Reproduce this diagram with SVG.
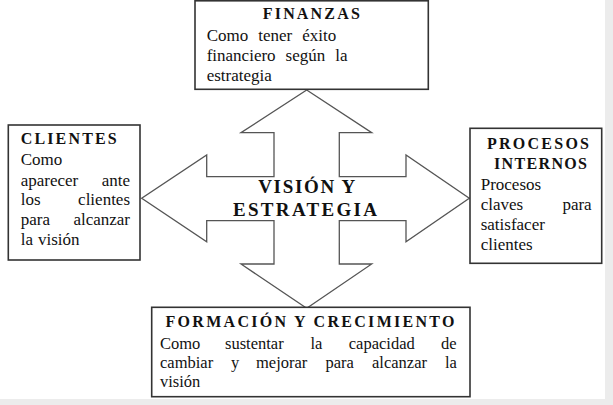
<svg xmlns="http://www.w3.org/2000/svg" width="613" height="405" viewBox="0 0 613 405">
<style>
.box{fill:#fff;stroke:#333;stroke-width:1.6}
.arrow{fill:#fff;stroke:#555;stroke-width:1.3;stroke-linejoin:miter}
</style>
<rect x="0" y="0" width="613" height="405" fill="#ececec"/>
<rect x="0" y="0" width="605" height="399" fill="#fff"/>
<g id="connectors">
<polygon class="arrow" points="306.7,90 371.7,132.7 339.3,132.7 339.3,176.7 406,176.7 406,155 469.3,198.3 406,241.7 406,220.7 339.3,220.7 339.3,264 371.7,264 306.7,308.3 241,264 274,264 274,220.7 206.7,220.7 206.7,241.7 141.7,198.3 206.7,155 206.7,176.7 274,176.7 274,132.7 241,132.7"/>
</g>
<g fill="#111">
<g id="center">
<text x="306.7" y="193" text-anchor="middle" style="font-family:'Liberation Serif';font-weight:bold;font-size:19px" textLength="97" lengthAdjust="spacing">VISIÓN Y</text>
<text x="305" y="215.5" text-anchor="middle" style="font-family:'Liberation Serif';font-weight:bold;font-size:19px" textLength="144" lengthAdjust="spacing">ESTRATEGIA</text>
</g>
<g id="finanzas">
<rect class="box" x="195" y="0.8" width="233.3" height="88.5"/>
<text x="311.3" y="18.5" text-anchor="middle" style="font-family:'Liberation Serif';font-weight:bold;font-size:16px" textLength="97" lengthAdjust="spacing">FINANZAS</text>
<text y="40.7" style="font-family:'Liberation Serif';font-size:17px"><tspan x="206.7">Como</tspan><tspan x="258.3">tener</tspan><tspan x="302.3">éxito</tspan></text>
<text y="61" style="font-family:'Liberation Serif';font-size:17px"><tspan x="206.7">financiero</tspan><tspan x="285.6">según</tspan><tspan x="335.3">la</tspan></text>
<text x="206.7" y="81.3" style="font-family:'Liberation Serif';font-size:17px">estrategia</text>
</g>
<g id="clientes">
<rect class="box" x="8.3" y="125" width="131.7" height="135"/>
<text x="20.7" y="144.3" style="font-family:'Liberation Serif';font-weight:bold;font-size:16px" textLength="96" lengthAdjust="spacing">CLIENTES</text>
<text x="20.7" y="165" style="font-family:'Liberation Serif';font-size:17px">Como</text>
<text y="185.5" style="font-family:'Liberation Serif';font-size:17px"><tspan x="20.7">aparecer</tspan><tspan x="101.7">ante</tspan></text>
<text y="205" style="font-family:'Liberation Serif';font-size:17px"><tspan x="20.7">los</tspan><tspan x="78.1">clientes</tspan></text>
<text y="225" style="font-family:'Liberation Serif';font-size:17px"><tspan x="20.7">para</tspan><tspan x="73.4">alcanzar</tspan></text>
<text y="245" style="font-family:'Liberation Serif';font-size:17px"><tspan x="20.7">la</tspan><tspan x="38">visión</tspan></text>
</g>
<g id="procesos">
<rect class="box" x="470" y="128.3" width="131.7" height="135"/>
<text x="538" y="149.3" text-anchor="middle" style="font-family:'Liberation Serif';font-weight:bold;font-size:16px" textLength="102" lengthAdjust="spacing">PROCESOS</text>
<text x="540.5" y="169.3" text-anchor="middle" style="font-family:'Liberation Serif';font-weight:bold;font-size:16px" textLength="93" lengthAdjust="spacing">INTERNOS</text>
<text x="480.7" y="190" style="font-family:'Liberation Serif';font-size:17px">Procesos</text>
<text y="209.5" style="font-family:'Liberation Serif';font-size:17px"><tspan x="480.7">claves</tspan><tspan x="562.4">para</tspan></text>
<text x="480.7" y="229.5" style="font-family:'Liberation Serif';font-size:17px">satisfacer</text>
<text x="480.7" y="249.5" style="font-family:'Liberation Serif';font-size:17px">clientes</text>
</g>
<g id="formacion">
<rect class="box" x="151.7" y="307.3" width="318.3" height="89.4"/>
<text x="310" y="327.3" text-anchor="middle" style="font-family:'Liberation Serif';font-weight:bold;font-size:16px" textLength="289" lengthAdjust="spacing">FORMACIÓN Y CRECIMIENTO</text>
<text y="348.5" style="font-family:'Liberation Serif';font-size:16.5px"><tspan x="160">Como</tspan><tspan x="225">sustentar</tspan><tspan x="310.5">la</tspan><tspan x="348.8">capacidad</tspan><tspan x="441">de</tspan></text>
<text y="368.3" style="font-family:'Liberation Serif';font-size:16.5px"><tspan x="160">cambiar</tspan><tspan x="230.9">y</tspan><tspan x="256">mejorar</tspan><tspan x="325.5">para</tspan><tspan x="372">alcanzar</tspan><tspan x="445">la</tspan></text>
<text x="160" y="387.3" style="font-family:'Liberation Serif';font-size:16.5px">visión</text>
</g>
</g>
</svg>
